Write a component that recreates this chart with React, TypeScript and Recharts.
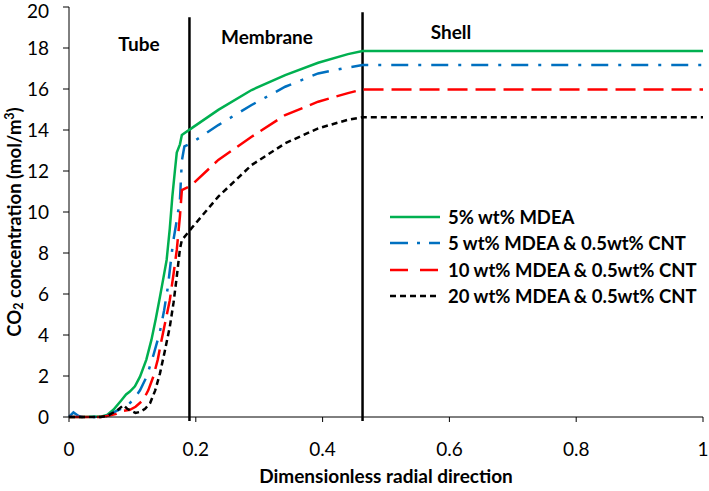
import React from "react";
import { LineChart, Line, XAxis, YAxis, ReferenceLine } from "recharts";

// dimensionless radial position vs CO2 concentration (mol/m3)
const mdea5 = [
  [0, 0], [0.02, 0], [0.05, 0.02], [0.06, 0.1], [0.07, 0.35], [0.083, 0.83], [0.09, 1.1],
  [0.096, 1.24], [0.104, 1.5], [0.112, 1.97], [0.122, 2.8], [0.13, 3.76], [0.137, 4.8],
  [0.1435, 5.87], [0.149, 6.8], [0.154, 7.66], [0.159, 9.2], [0.163, 10.75], [0.167, 12],
  [0.17, 12.9], [0.175, 13.3], [0.178, 13.76], [0.193, 14.08], [0.2355, 14.98], [0.288, 15.95],
  [0.341, 16.68], [0.393, 17.28], [0.44, 17.7], [0.463, 17.85], [0.6, 17.85], [1, 17.85],
];
const mdea5Cnt = [
  [0, 0], [0.007, 0.22], [0.015, 0.05], [0.02, 0], [0.055, 0], [0.063, 0.1], [0.075, 0.3],
  [0.09, 0.5], [0.101, 0.83], [0.112, 1.3], [0.1225, 1.97], [0.133, 3], [0.143, 4.1], [0.15, 5.2],
  [0.156, 6.35], [0.164, 8.5], [0.17, 9.6], [0.175, 10.6], [0.178, 12.5], [0.182, 13.2],
  [0.193, 13.36], [0.2355, 14.24], [0.288, 15.22], [0.341, 16.11], [0.393, 16.76], [0.44, 17.05],
  [0.463, 17.17], [1, 17.17],
];
const mdea10Cnt = [
  [0, 0], [0.05, 0], [0.06, 0.05], [0.075, 0.15], [0.085, 0.3], [0.096, 0.35], [0.105, 0.5],
  [0.117, 0.83], [0.125, 1.3], [0.133, 1.97], [0.14, 2.8], [0.146, 3.76], [0.153, 4.8],
  [0.159, 5.7], [0.165, 7], [0.17, 8.15], [0.175, 9.8], [0.178, 11.07], [0.193, 11.3],
  [0.2355, 12.54], [0.288, 13.67], [0.341, 14.73], [0.393, 15.38], [0.44, 15.8], [0.463, 15.98],
  [1, 15.98],
];
const mdea20Cnt = [
  [0, 0], [0.05, 0], [0.06, 0.05], [0.075, 0.3], [0.086, 0.58], [0.092, 0.4], [0.098, 0.3],
  [0.105, 0.2], [0.112, 0.25], [0.12, 0.4], [0.128, 0.68], [0.136, 1.3], [0.1435, 2.13],
  [0.151, 3.2], [0.159, 4.4], [0.165, 5.6], [0.17, 6.85], [0.175, 8.2], [0.178, 8.63],
  [0.193, 9.2], [0.2355, 10.75], [0.288, 12.29], [0.341, 13.35], [0.393, 14.08], [0.44, 14.5],
  [0.463, 14.62], [1, 14.62],
];

const seriesNames = [
  "5% wt% MDEA",
  "5 wt% MDEA & 0.5wt% CNT",
  "10 wt% MDEA & 0.5wt% CNT",
  "20 wt% MDEA & 0.5wt% CNT",
];
const xTicks = [0, 0.2, 0.4, 0.6, 0.8, 1];
const yTicks = [0, 2, 4, 6, 8, 10, 12, 14, 16, 18, 20];
const tubeEnd = 0.19;
const membraneEnd = 0.463;

const toRows = (pts: number[][]) => pts.map(([x, y]) => ({ x, y }));

const styles = [
  { color: "#00b050", dash: undefined as string | undefined, legendDash: undefined as string | undefined },
  { color: "#0070c0", dash: "17 10 3 10", legendDash: "18 9 3 9" },
  { color: "#ff0000", dash: "20 8", legendDash: "18 12" },
  { color: "#000000", dash: "6 4", legendDash: "6 4" },
];

const FONT = "Lato, 'Open Sans', sans-serif";

function LegendBox() {
  return (
    <div style={{ position: "absolute", left: 390, top: 204, fontFamily: FONT, fontWeight: 700, fontSize: 18.5, whiteSpace: "nowrap", width: 318 }}>
      {seriesNames.map((n, i) => (
        <div key={n} style={{ display: "flex", alignItems: "center", height: 26.3 }}>
          <svg width={50} height={10} style={{ marginRight: 8, flexShrink: 0 }}>
            <line x1={0} y1={5} x2={50} y2={5} stroke={styles[i].color} strokeWidth={2.5} strokeDasharray={styles[i].legendDash} />
          </svg>
          <span>{n}</span>
        </div>
      ))}
    </div>
  );
}

function YTitle() {
  const cx = 14;
  const cy = 222;
  return (
    <text x={cx} y={cy} transform={`rotate(-90 ${cx} ${cy})`} textAnchor="middle" dominantBaseline="central"
      style={{ fontFamily: FONT, fontWeight: 700, fontSize: 18.5, fill: "#000" }}>
      CO<tspan fontSize={12.5} dy={4}>2</tspan><tspan dy={-4}> concentration (mol/m</tspan><tspan fontSize={12.5} dy={-5}>3</tspan><tspan dy={5}>)</tspan>
    </text>
  );
}

const regionLabel = (left: number, top: number, text: string) => (
  <div style={{ position: "absolute", left, top, fontFamily: FONT, fontWeight: 700, fontSize: 19, transform: "translateX(-50%)", whiteSpace: "nowrap" }}>
    {text}
  </div>
);

export default function App() {
  const sets = [mdea5, mdea5Cnt, mdea10Cnt, mdea20Cnt];
  return (
    <div style={{ position: "absolute", left: 0, top: 0, width: 709, height: 491, background: "#fff" }}>
      <LineChart width={709} height={491} margin={{ top: 7, right: 6, left: 0, bottom: 0 }}>
        <XAxis type="number" dataKey="x" domain={[0, 1]} ticks={xTicks} allowDuplicatedCategory={false}
          height={74} tickSize={5} tickMargin={21} stroke="#000"
          tick={{ fill: "#000", fontFamily: FONT, fontSize: 19 }}
          label={{ value: "Dimensionless radial direction", position: "insideBottom", offset: 8, style: { fontFamily: FONT, fontWeight: 700, fontSize: 19, fill: "#000" } }} />
        <YAxis type="number" domain={[0, 20]} ticks={yTicks} width={69} tickSize={6} tickMargin={14}
          stroke="#000" tick={{ fill: "#000", fontFamily: FONT, fontSize: 19 }} label={<YTitle />} />
        <ReferenceLine segment={[{ x: tubeEnd, y: 19.5 }, { x: tubeEnd, y: -0.2 }]} stroke="#000" strokeWidth={2.5} ifOverflow="visible" />
        <ReferenceLine segment={[{ x: membraneEnd, y: 19.75 }, { x: membraneEnd, y: -0.2 }]} stroke="#000" strokeWidth={2.5} ifOverflow="visible" />
        {sets.map((s, i) => (
          <Line key={seriesNames[i]} data={toRows(s)} dataKey="y" name={seriesNames[i]} type="linear"
            stroke={styles[i].color} strokeWidth={2.5} strokeDasharray={styles[i].dash}
            dot={false} isAnimationActive={false} />
        ))}
      </LineChart>
      <LegendBox />
      {regionLabel(139, 32, "Tube")}
      {regionLabel(267, 25, "Membrane")}
      {regionLabel(451, 20, "Shell")}
    </div>
  );
}
